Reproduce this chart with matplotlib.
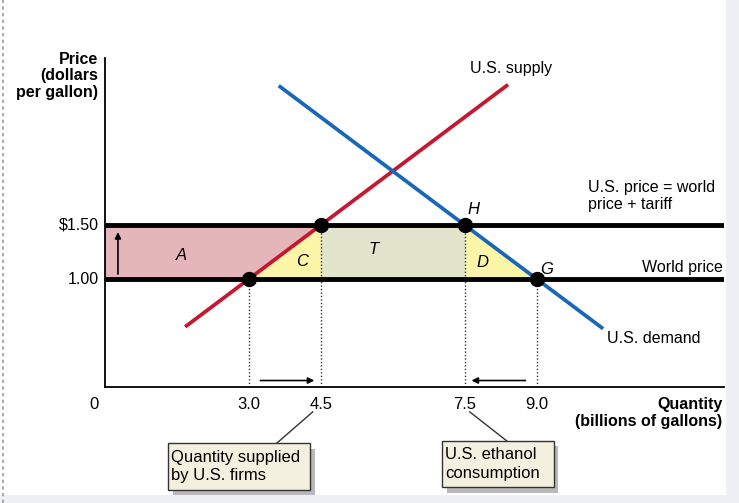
import numpy as np
import matplotlib.pyplot as plt
from matplotlib.patches import Polygon, Rectangle

plt.rcParams['font.family'] = ['Liberation Sans', 'DejaVu Sans']

# data
world_price = 1.00
tariff_price = 1.50
supply_q = [1.67, 8.4]
supply_p = [0.557, 2.8]
demand_q = [3.62, 10.38]
demand_p = [2.79, 0.54]
q_world_supply = 3.0
q_tariff_supply = 4.5
q_tariff_demand = 7.5
q_world_demand = 9.0
x_ticks = [3.0, 4.5, 7.5, 9.0]
x_tick_labels = ["3.0", "4.5", "7.5", "9.0"]
y_ticks = [1.50, 1.00]
y_tick_labels = ["$1.50", "1.00"]

red = "#c4182f"
blue = "#1a66b8"
pink = "#e5b6b9"
yellow = "#fbf5a8"
green = "#e2e5cb"

fig = plt.figure(figsize=(7.39, 5.03), dpi=100)
fig.patch.set_facecolor("white")
# light page frame
fig.patches.append(Rectangle((726 / 739, 0), 13 / 739, 1, transform=fig.transFigure,
                             fc="#eef0f6", ec="none", zorder=-5))
fig.patches.append(Rectangle((0, 0), 1, 8 / 503, transform=fig.transFigure,
                             fc="#eef0f6", ec="none", zorder=-5))
fig.lines.append(plt.Line2D([3 / 739, 3 / 739], [0, 1], transform=fig.transFigure,
                            color="#999999", lw=1.2, ls=(0, (2, 2))))

ax = fig.add_axes([105 / 739, 116 / 503, 619 / 739, 329.4 / 503])
ax.set_xlim(0, 12.9)
ax.set_ylim(0, 3.05)
for s in ["top", "right"]:
    ax.spines[s].set_visible(False)
ax.spines["left"].set_linewidth(1.3)
ax.spines["bottom"].set_linewidth(1.3)
ax.set_xticks([])
ax.set_yticks([])

# shaded areas
ax.add_patch(Polygon([(0, world_price), (q_world_supply, world_price),
                      (q_tariff_supply, tariff_price), (0, tariff_price)],
                     fc=pink, ec="none", zorder=1))
ax.add_patch(Polygon([(q_world_supply, world_price), (q_tariff_supply, world_price),
                      (q_tariff_supply, tariff_price)], fc=yellow, ec="none", zorder=1))
ax.add_patch(Polygon([(q_tariff_supply, world_price), (q_tariff_demand, world_price),
                      (q_tariff_demand, tariff_price), (q_tariff_supply, tariff_price)],
                     fc=green, ec="none", zorder=1))
ax.add_patch(Polygon([(q_tariff_demand, tariff_price), (q_tariff_demand, world_price),
                      (q_world_demand, world_price)], fc=yellow, ec="none", zorder=1))

# price lines
ax.plot([0, 12.9], [tariff_price, tariff_price], color="black", lw=3.5, zorder=3,
        solid_capstyle="butt")
ax.plot([0, 12.9], [world_price, world_price], color="black", lw=3.5, zorder=3,
        solid_capstyle="butt")

# supply and demand
ax.plot(supply_q, supply_p, color=red, lw=2.7, zorder=4, solid_capstyle="butt")
ax.plot(demand_q, demand_p, color=blue, lw=2.7, zorder=4, solid_capstyle="butt")

# dotted guides
for q, p in [(q_world_supply, world_price), (q_tariff_supply, tariff_price),
             (q_tariff_demand, tariff_price), (q_world_demand, world_price)]:
    ax.plot([q, q], [0, p], color="#333333", lw=1, ls=(0, (1, 1.5)), zorder=2)

# points
ax.scatter([q_world_supply, q_tariff_supply, q_tariff_demand, q_world_demand],
           [world_price, tariff_price, tariff_price, world_price],
           s=100, color="black", zorder=6)

# area labels
style = dict(fontsize=12, style="italic", ha="center", va="center", zorder=7)
ax.text(1.6, 1.22, "A", **style)
ax.text(4.1, 1.16, "C", **style)
ax.text(5.6, 1.27, "T", **style)
ax.text(7.87, 1.15, "D", **style)
ax.text(7.67, 1.64, "H", **style)
ax.text(9.2, 1.09, "G", **style)

# vertical arrow in A
ax.annotate("", xy=(0.27, 1.46), xytext=(0.27, 1.02),
            arrowprops=dict(arrowstyle="-|>", color="black", lw=1.2, mutation_scale=9))
# horizontal arrows near the axis
ax.annotate("", xy=(4.42, 0.06), xytext=(3.18, 0.06),
            arrowprops=dict(arrowstyle="-|>", color="black", lw=1.2, mutation_scale=9))
ax.annotate("", xy=(7.58, 0.06), xytext=(8.82, 0.06),
            arrowprops=dict(arrowstyle="-|>", color="black", lw=1.2, mutation_scale=9))

# curve labels
fs = 11.5
ax.text(7.6, 2.95, "U.S. supply", fontsize=fs, ha="left", va="center")
ax.text(10.06, 1.77, "U.S. price = world\nprice + tariff", fontsize=fs, ha="left",
        va="center", linespacing=1.12)
ax.text(12.87, 1.105, "World price", fontsize=fs, ha="right", va="center")
ax.text(10.46, 0.45, "U.S. demand", fontsize=fs, ha="left", va="center")

# axis tick labels
for y, lab in zip(y_ticks, y_tick_labels):
    ax.text(-0.12, y, lab, fontsize=11.5, ha="right", va="center", clip_on=False)
for x, lab in zip(x_ticks, x_tick_labels):
    ax.text(x, -0.165, lab, fontsize=12, ha="center", va="center", clip_on=False)
ax.text(-0.22, -0.165, "0", fontsize=12, ha="center", va="center", clip_on=False)

ax.text(-0.15, 3.1, "Price\n(dollars\nper gallon)", fontsize=fs, fontweight="bold",
        ha="right", va="top", linespacing=1.1, clip_on=False)
ax.text(12.87, -0.24, "Quantity\n(billions of gallons)", fontsize=fs, fontweight="bold",
        ha="right", va="center", linespacing=1.1, clip_on=False)

# callout boxes
boxes = [((1.31, -0.95), 2.96, 0.43, "Quantity supplied\nby U.S. firms",
          (4.33, -0.23), (3.58, -0.52)),
         ((7.02, -0.93), 2.33, 0.43, "U.S. ethanol\nconsumption",
          (7.6, -0.23), (8.375, -0.50))]
for (bx, by), bw, bh, txt, p0, p1 in boxes:
    ax.add_patch(Rectangle((bx + 0.1, by - 0.05), bw, bh, fc="#b9b9b9", ec="none",
                           clip_on=False, zorder=2))
    ax.add_patch(Rectangle((bx, by), bw, bh, fc="#f4f0df", ec="#333333", lw=1,
                           clip_on=False, zorder=3))
    ax.text(bx + 0.07, by + bh / 2, txt, fontsize=12, ha="left", va="center",
            linespacing=1.3, clip_on=False, zorder=4)
    ax.plot([p0[0], p1[0]], [p0[1], p1[1]], color="#333333", lw=1, clip_on=False)

fig.savefig("out.png", dpi=100)
